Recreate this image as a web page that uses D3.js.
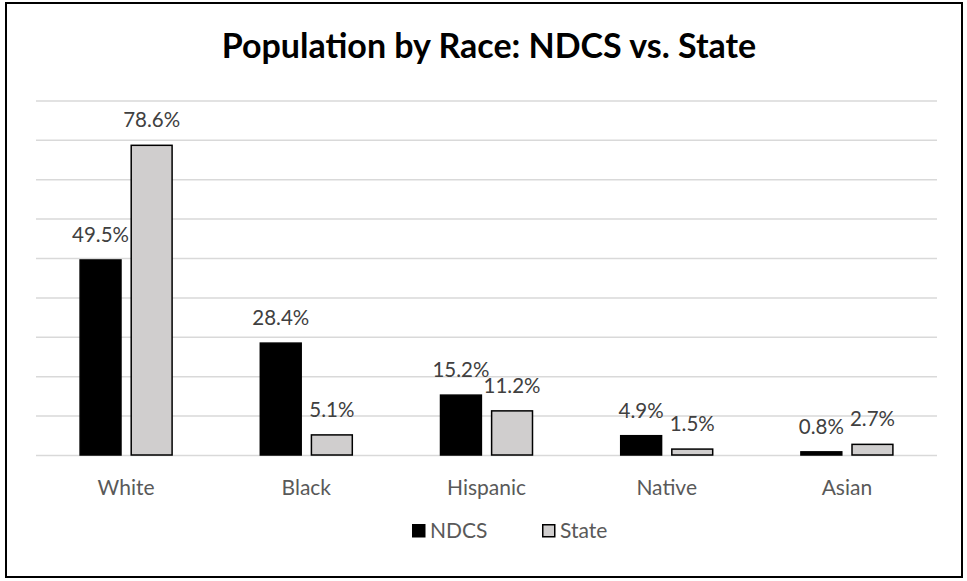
<!DOCTYPE html>
<html>
<head>
<meta charset="utf-8">
<script src="https://cdn.jsdelivr.net/npm/d3@7"></script>
<style>
  html, body { margin: 0; padding: 0; background: #fff; }
  svg { display: block; }
  text { font-family: Lato, "Open Sans", sans-serif; }
</style>
</head>
<body>
<svg id="chart" width="967" height="581"></svg>
<script>
const categories = ["White", "Black", "Hispanic", "Native", "Asian"];
const seriesNames = ["NDCS", "State"];
const ndcsValues = [49.5, 28.4, 15.2, 4.9, 0.8];
const stateValues = [78.6, 5.1, 11.2, 1.5, 2.7];
const yTicks = [0, 10, 20, 30, 40, 50, 60, 70, 80, 90];
const title = "Population by Race: NDCS vs. State";

const colors = { NDCS: "#000000", State: "#d0cece" };
const strokes = { NDCS: "#000000", State: "#000000" };

const svg = d3.select("#chart");

svg.append("rect")
  .attr("x", 6).attr("y", 3).attr("width", 956).attr("height", 574)
  .attr("fill", "#fff").attr("stroke", "#000").attr("stroke-width", 2);

const plot = { left: 36, right: 937, top: 100.4, bottom: 455 };

const y = d3.scaleLinear().domain([0, 90]).range([plot.bottom, plot.top]);
const x0 = d3.scaleBand().domain(categories).range([plot.left, plot.right]).padding(0);
const half = 46;
const x1 = d3.scaleBand().domain(seriesNames)
  .range([x0.bandwidth() / 2 - half, x0.bandwidth() / 2 + half])
  .paddingInner(0.2).paddingOuter(0);

// gridlines via axis
const yAxis = d3.axisLeft(y).tickValues(yTicks).tickSize(-(plot.right - plot.left)).tickFormat("");
const gAxis = svg.append("g").attr("transform", `translate(${plot.left},0)`).call(yAxis);
gAxis.select(".domain").remove();
gAxis.selectAll(".tick line").attr("stroke", "#d9d9d9").attr("stroke-width", 1.5);

// title
svg.append("text")
  .attr("x", 489).attr("y", 58)
  .attr("text-anchor", "middle")
  .attr("font-weight", "bold")
  .attr("font-size", 34)
  .attr("fill", "#000")
  .text(title);

const data = categories.map((c, i) => ({
  cat: c,
  vals: [
    { s: "NDCS", v: ndcsValues[i] },
    { s: "State", v: stateValues[i] }
  ]
}));

const groups = svg.append("g").selectAll("g")
  .data(data).join("g")
  .attr("transform", d => `translate(${x0(d.cat)},0)`);

groups.selectAll("rect")
  .data(d => d.vals).join("rect")
  .attr("x", d => x1(d.s))
  .attr("width", x1.bandwidth())
  .attr("y", d => y(d.v))
  .attr("height", d => y(0) - y(d.v))
  .attr("fill", d => colors[d.s])
  .attr("stroke", d => strokes[d.s])
  .attr("stroke-width", 1.5);

groups.selectAll("text.val")
  .data(d => d.vals).join("text")
  .attr("class", "val")
  .attr("x", d => x1(d.s) + x1.bandwidth() / 2)
  .attr("y", d => y(d.v) - 18)
  .attr("text-anchor", "middle")
  .attr("font-size", 20.5)
  .attr("fill", "#404040")
  .text(d => d.v.toFixed(1) + "%");

// category axis labels
const xAxis = d3.axisBottom(x0).tickSize(0).tickPadding(0);
const gx = svg.append("g").attr("transform", `translate(0,${plot.bottom})`).call(xAxis);
gx.select(".domain").remove();
gx.selectAll(".tick text")
  .attr("dy", 0).attr("y", 40)
  .attr("font-size", 21)
  .attr("font-family", "Lato, 'Open Sans', sans-serif")
  .attr("fill", "#595959");

// legend
const legendItems = [
  { s: "NDCS", x: 412 },
  { s: "State", x: 542 }
];
const lg = svg.append("g").selectAll("g").data(legendItems).join("g")
  .attr("transform", d => `translate(${d.x},524)`);
lg.append("rect")
  .attr("x", 0.75).attr("y", 0.75).attr("width", 12).attr("height", 12)
  .attr("fill", d => colors[d.s]).attr("stroke", "#000").attr("stroke-width", 1.5);
lg.append("text")
  .attr("x", 18).attr("y", 13.5)
  .attr("font-size", 21)
  .attr("fill", "#595959")
  .text(d => d.s);
</script>
</body>
</html>
